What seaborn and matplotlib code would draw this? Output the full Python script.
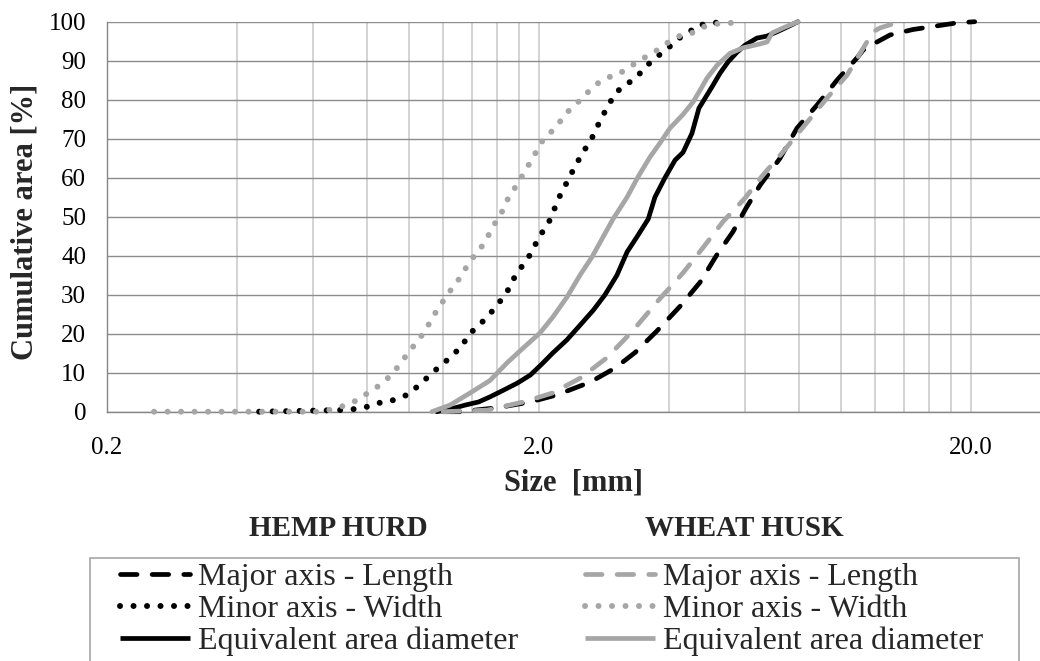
import matplotlib
matplotlib.use("Agg")
import matplotlib.pyplot as plt
from matplotlib.lines import Line2D
from matplotlib.patches import Rectangle
from matplotlib.ticker import FixedLocator, FixedFormatter, NullFormatter
import seaborn as sns

# ---------------- data ----------------
hemp_major_x = [1.20, 1.31, 1.60, 1.91, 2.20, 2.63, 3.00, 3.34, 3.75, 4.24, 4.72, 5.16, 5.62, 6.03,
                6.50, 7.23, 7.91, 8.80, 9.79, 10.89, 11.25, 12.12, 12.99, 14.68, 18.56, 20.4]
hemp_major_y = [0, 0, 1.0, 2.5, 4.3, 7.6, 11.2, 15.2, 20.7, 27.0, 33.2, 40.2, 46.1, 52.2,
                58.1, 65.0, 72.7, 78.6, 85.0, 90.7, 92.7, 94.8, 96.6, 98.0, 99.7, 100]

hemp_minor_x = [0.45, 0.685, 0.738, 0.787, 0.843, 0.894, 0.948, 1.000, 1.049, 1.094, 1.137, 1.193,
                1.238, 1.264, 1.320, 1.370, 1.437, 1.50, 1.565, 1.625, 1.687, 1.732, 1.787, 1.857,
                1.928, 1.979, 2.043, 2.11, 2.20, 2.26, 2.33, 2.40, 2.475, 2.556, 2.65, 2.72, 2.80,
                2.89, 2.98, 3.11, 3.30, 3.45, 3.60, 3.79, 3.98, 4.17, 4.43, 4.64, 4.92, 5.31]
hemp_minor_y = [0, 0.4, 0.6, 1.0, 2.2, 2.5, 3.5, 4.5, 6.6, 8.4, 10.2, 12.0,
                13.7, 14.8, 16.3, 19.6, 21.7, 23.7, 26.0, 28.3, 30.7, 33.4, 35.8, 38.4,
                41.0, 43.8, 46.3, 48.7, 53.5, 56.6, 59.1, 62.0, 64.7, 67.3, 70.1, 72.8, 75.6,
                78.4, 81.0, 83.3, 85.0, 87.1, 89.3, 91.4, 93.2, 95.5, 97.0, 99.1, 99.4, 100]

hemp_equiv_x = [1.16, 1.25, 1.35, 1.45, 1.54, 1.64, 1.78, 1.91, 2.03, 2.15, 2.32, 2.49, 2.67, 2.84,
                3.03, 3.20, 3.37, 3.58, 3.71, 3.91, 4.13, 4.31, 4.52, 4.69, 5.03, 5.25, 5.48, 5.75,
                6.00, 6.39, 6.74, 7.11, 7.50, 7.95]
hemp_equiv_y = [0, 0.7, 1.7, 2.5, 3.8, 5.3, 7.3, 9.4, 12.2, 15.0, 18.4, 22.2, 26.0, 29.9,
                35.0, 41.0, 44.8, 49.4, 55.0, 59.9, 64.5, 66.5, 71.4, 77.8, 83.3, 86.8, 89.7, 92.2,
                94.0, 95.8, 96.3, 97.4, 98.6, 100]

wheat_major_x = [1.20, 1.52, 1.84, 2.15, 2.49, 2.87, 3.30, 3.77, 4.31, 4.79, 5.33, 6.00, 6.60, 7.34,
                 8.25, 9.28, 10.33, 10.78, 11.86, 12.31, 13.69]
wheat_major_y = [0, 0.4, 2.5, 4.8, 8.6, 13.8, 20.8, 28.4, 35.6, 42.0, 48.7, 54.8, 60.7, 66.6,
                 73.5, 80.4, 86.3, 89.7, 97.4, 98.4, 100]

wheat_minor_x = [0.257, 0.62, 0.681, 0.723, 0.762, 0.803, 0.843, 0.880, 0.918, 0.953, 0.984, 1.021,
                 1.060, 1.094, 1.125, 1.161, 1.199, 1.238, 1.292, 1.334, 1.385, 1.437, 1.492, 1.532,
                 1.582, 1.641, 1.678, 1.741, 1.798, 1.857, 1.916, 1.979, 2.043, 2.133, 2.224, 2.310,
                 2.41, 2.53, 2.64, 2.78, 2.95, 3.03, 3.20, 3.37, 3.56, 3.77, 3.98, 4.22, 4.52, 4.72,
                 5.06, 5.48, 5.84]
wheat_minor_y = [0, 0, 0.8, 2.0, 3.0, 4.8, 6.3, 7.9, 9.9, 12.2, 14.3, 16.6,
                 18.9, 21.0, 23.5, 26.0, 28.3, 30.6, 33.2, 35.8, 38.4, 41.0, 43.0, 45.5,
                 48.3, 51.2, 53.8, 56.6, 59.1, 61.7, 64.3, 67.0, 69.7, 71.7, 74.0, 76.5,
                 78.4, 80.6, 82.8, 84.8, 86.1, 86.3, 88.0, 89.6, 91.2, 92.8, 94.7, 96.3, 97.1, 98.4,
                 99.4, 99.6, 100]

wheat_equiv_x = [1.13, 1.245, 1.385, 1.54, 1.686, 1.837, 2.011, 2.154, 2.322, 2.488, 2.654, 2.814,
                 2.968, 3.198, 3.39, 3.614, 3.812, 4.02, 4.308, 4.546, 4.694, 4.896, 5.164, 5.536,
                 5.934, 6.496, 6.744, 6.926, 7.344, 7.954]
wheat_equiv_y = [0, 1.7, 4.8, 8.0, 12.5, 16.3, 20.2, 24.3, 29.4, 35.0, 39.7, 44.8,
                 49.4, 55.0, 60.2, 65.3, 68.9, 72.7, 76.2, 79.4, 82.0, 85.5, 88.8, 91.9,
                 93.3, 94.3, 94.8, 97.1, 98.4, 100]

series_labels = ["Major axis - Length", "Minor axis - Width", "Equivalent area diameter"]
group_titles = ["HEMP HURD", "WHEAT HUSK"]
x_tick_values = [0.2, 2.0, 20.0]
x_tick_labels = ["0.2", "2.0", "20.0"]
x_minor_values = [0.4, 0.6, 0.8, 1.0, 1.2, 1.4, 1.6, 1.8, 4, 6, 8, 10, 12, 14, 16, 18]
y_tick_values = [0, 10, 20, 30, 40, 50, 60, 70, 80, 90, 100]
x_label = "Size  [mm]"
y_label = "Cumulative area [%]"

# ---------------- style ----------------
sns.set_style("white")
plt.rcParams["font.family"] = ["Liberation Serif", "DejaVu Serif"]

BLACK = "#000000"
GRAY = "#a6a6a6"
LW = 3.4
LW_DOT = 4.3
DASH = (0, (3.5, 3.2))
DOT = (0, (0.01, 2.25))

fig = plt.figure(figsize=(10.4, 6.61), dpi=100)
W, H = 1040.0, 661.0
ax_left, ax_right, ax_top, ax_bot = 107, 1040, 21.7, 411.7
ax = fig.add_axes([ax_left / W, 1 - ax_bot / H, (ax_right - ax_left) / W, (ax_bot - ax_top) / H])

series = [
    (hemp_major_x, hemp_major_y, BLACK, DASH, LW),
    (hemp_minor_x, hemp_minor_y, BLACK, DOT, LW_DOT),
    (hemp_equiv_x, hemp_equiv_y, BLACK, "-", LW),
    (wheat_major_x, wheat_major_y, GRAY, DASH, LW),
    (wheat_minor_x, wheat_minor_y, GRAY, DOT, LW_DOT),
    (wheat_equiv_x, wheat_equiv_y, GRAY, "-", LW),
]
for xs, ys, col, ls, lw in series:
    sns.lineplot(x=xs, y=ys, ax=ax, color=col, linewidth=lw, linestyle=ls,
                 estimator=None, sort=False, legend=False,
                 dash_capstyle="round", solid_capstyle="round", solid_joinstyle="round",
                 zorder=3, clip_on=False)

ax.set_xscale("log")
ax.set_xlim(0.2, 0.2 * 10 ** ((ax_right - ax_left) / 432.0))
ax.set_ylim(0, 100)

ax.xaxis.set_major_locator(FixedLocator(x_tick_values))
ax.xaxis.set_major_formatter(FixedFormatter(x_tick_labels))
ax.xaxis.set_minor_locator(FixedLocator(x_minor_values))
ax.xaxis.set_minor_formatter(NullFormatter())
ax.set_yticks(y_tick_values)
ax.set_yticks([v + 5 for v in y_tick_values[:-1]], minor=True)

ax.set_axisbelow(True)
ax.grid(axis="x", which="both", color="#d0d0d0", linewidth=1.3)
ax.grid(axis="y", which="major", color="#8c8c8c", linewidth=1.0)
ax.grid(axis="y", which="minor", visible=False)

for s in ["top", "right"]:
    ax.spines[s].set_visible(False)
for s in ["left", "bottom"]:
    ax.spines[s].set_color("#868686")
    ax.spines[s].set_linewidth(1.0)

ax.tick_params(axis="both", which="major", direction="out", length=6, width=1,
               color="#868686", labelsize=18, labelcolor="black")
ax.tick_params(axis="y", which="major", pad=9)
ax.tick_params(axis="x", which="major", pad=12)
ax.tick_params(axis="y", which="minor", direction="in", length=4.5, width=1, color="#868686")
ax.tick_params(axis="x", which="minor", length=0)

ax.set_xlabel(x_label, fontsize=22, fontweight="bold", va="center")
ax.xaxis.set_label_coords(0.5, (ax_bot - 483) / (ax_bot - ax_top))
ax.set_ylabel(y_label, fontsize=22, fontweight="bold", va="center")
ax.yaxis.set_label_coords((25 - ax_left) / (ax_right - ax_left), (ax_bot - 221.5) / (ax_bot - ax_top))

# ---------------- legend ----------------
def handles(col):
    return [Line2D([], [], color=col, lw=LW, linestyle=DASH, dash_capstyle="round"),
            Line2D([], [], color=col, lw=LW_DOT, linestyle=DOT, dash_capstyle="round"),
            Line2D([], [], color=col, lw=LW, linestyle="-", solid_capstyle="butt")]

box_top = 558
leg_top = 563
for col, hx in [(BLACK, 120), (GRAY, 585)]:
    fig.legend(handles=handles(col), labels=series_labels, loc="upper left",
               bbox_to_anchor=(hx / W, 1 - leg_top / H), frameon=False, fontsize=23,
               handlelength=2.2, handletextpad=0.25, labelspacing=0.08,
               borderpad=0, borderaxespad=0)

fig.patches.append(Rectangle((90 / W, -0.2), (1019 - 90) / W, (1 - box_top / H) + 0.2,
                             transform=fig.transFigure, fill=False,
                             edgecolor="#a6a6a6", linewidth=1.2))

fig.text(338 / W, 1 - 528 / H, group_titles[0], ha="center", va="center",
         fontsize=21, fontweight="bold")
fig.text(744 / W, 1 - 528 / H, group_titles[1], ha="center", va="center",
         fontsize=21, fontweight="bold")

fig.savefig("out.png", dpi=100)
